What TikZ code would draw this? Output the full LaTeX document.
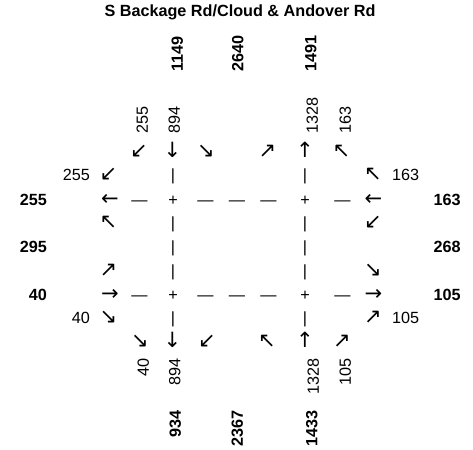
\documentclass[tikz,border=0pt]{standalone}
\usepackage{fontspec}
\usepackage{tikz}
\setmainfont{Liberation Sans}
\newfontfamily\arrowfont{DejaVu Sans}

\tikzset{
  cell/.style={inner sep=0pt, text height=11.5pt, text depth=0pt,
    font=\fontsize{16.2}{17}\selectfont},
  arrowcell/.style={cell, font=\fontsize{21}{22}\selectfont\arrowfont},
  volnum/.style={cell},
  totalnum/.style={cell, font=\fontsize{16.2}{17}\selectfont\bfseries},
}

\begin{document}
\begin{tikzpicture}[x=1pt, y=-1pt]
      \useasboundingbox (0,0) rectangle (473,449);
      \node[font=\fontsize{16.2}{17}\selectfont\bfseries, inner sep=0pt]
        (title) at (240, 12) {S Backage Rd/Cloud \& Andover Rd};
      % road lines and centres
      \foreach[count=\i] \xx/\yy/\glyph in {%
        139.5/199.5/—, 173/199.5/+, 205.5/199.5/—, 237/199.5/—,
        268.5/199.5/—, 305/199.5/+, 342.5/199.5/—,
        139.5/294.5/—, 173/294.5/+, 205.5/294.5/—, 237/294.5/—,
        268.5/294.5/—, 305/294.5/+, 342.5/294.5/—,
        173/175/|, 173/223/|, 173/247/|, 173/271/|, 173/318/|,
        305/175/|, 305/223/|, 305/247/|, 305/271/|, 305/318/|
        } {
        \node[cell] (road\i) at (\xx, \yy) {\glyph};
      }
      % movement arrows
      \foreach[count=\i] \xx/\yy/\glyph in {%
        139/151.5/↙, 172.5/151.5/↓, 206/151.5/↘,
        267.5/151.5/↗, 305/151.5/↑, 341.5/151.5/↖,
        140/342/↘, 172.5/342/↓, 207/342/↙,
        267/342/↖, 305/342/↑, 342/342/↗,
        108.5/175/↙, 110/199.5/←, 108.5/223/↖,
        108.5/271/↗, 110/294.5/→, 108.5/318/↘,
        373/175/↖, 373.5/199.5/←, 373/223/↙,
        373/271/↘, 373.5/294.5/→, 373/318/↗
        } {
        \node[arrowcell] (mov\i) at (\xx, \yy) {\glyph};
      }
      % turning volumes, west and east
      \node[volnum, anchor=east] (wleft) at (90, 175) {255};
      \node[volnum, anchor=east] (wright) at (90, 318) {40};
      \node[volnum, anchor=west] (eright) at (392, 175) {163};
      \node[volnum, anchor=west] (eleft) at (392, 318) {105};
      % turning volumes, north and south
      \foreach[count=\i] \xx/\val in {142/255, 174/894, 312/1328, 345/163} {
        \node[volnum, rotate=90, anchor=west] (nvol\i) at (\xx, 134) {\val};
      }
      \foreach[count=\i] \xx/\val in {143/40, 174.5/894, 313/1328, 345/105} {
        \node[volnum, rotate=90, anchor=east] (svol\i) at (\xx, 358) {\val};
      }
      % approach totals
      \foreach[count=\i] \yy/\val in {199.5/255, 247/295, 294.5/40} {
        \node[totalnum, anchor=east] (wtot\i) at (47, \yy) {\val};
      }
      \foreach[count=\i] \yy/\val in {199.5/163, 247/268, 294.5/105} {
        \node[totalnum, anchor=west] (etot\i) at (433.5, \yy) {\val};
      }
      \foreach[count=\i] \xx/\val in {177/1149, 237.5/2640, 310.5/1491} {
        \node[totalnum, rotate=90, anchor=west] (ntot\i) at (\xx, 72) {\val};
      }
      \foreach[count=\i] \xx/\val in {175/934, 237/2367, 311.5/1433} {
        \node[totalnum, rotate=90, anchor=east] (stot\i) at (\xx, 410) {\val};
      }
    \end{tikzpicture}
\end{document}
